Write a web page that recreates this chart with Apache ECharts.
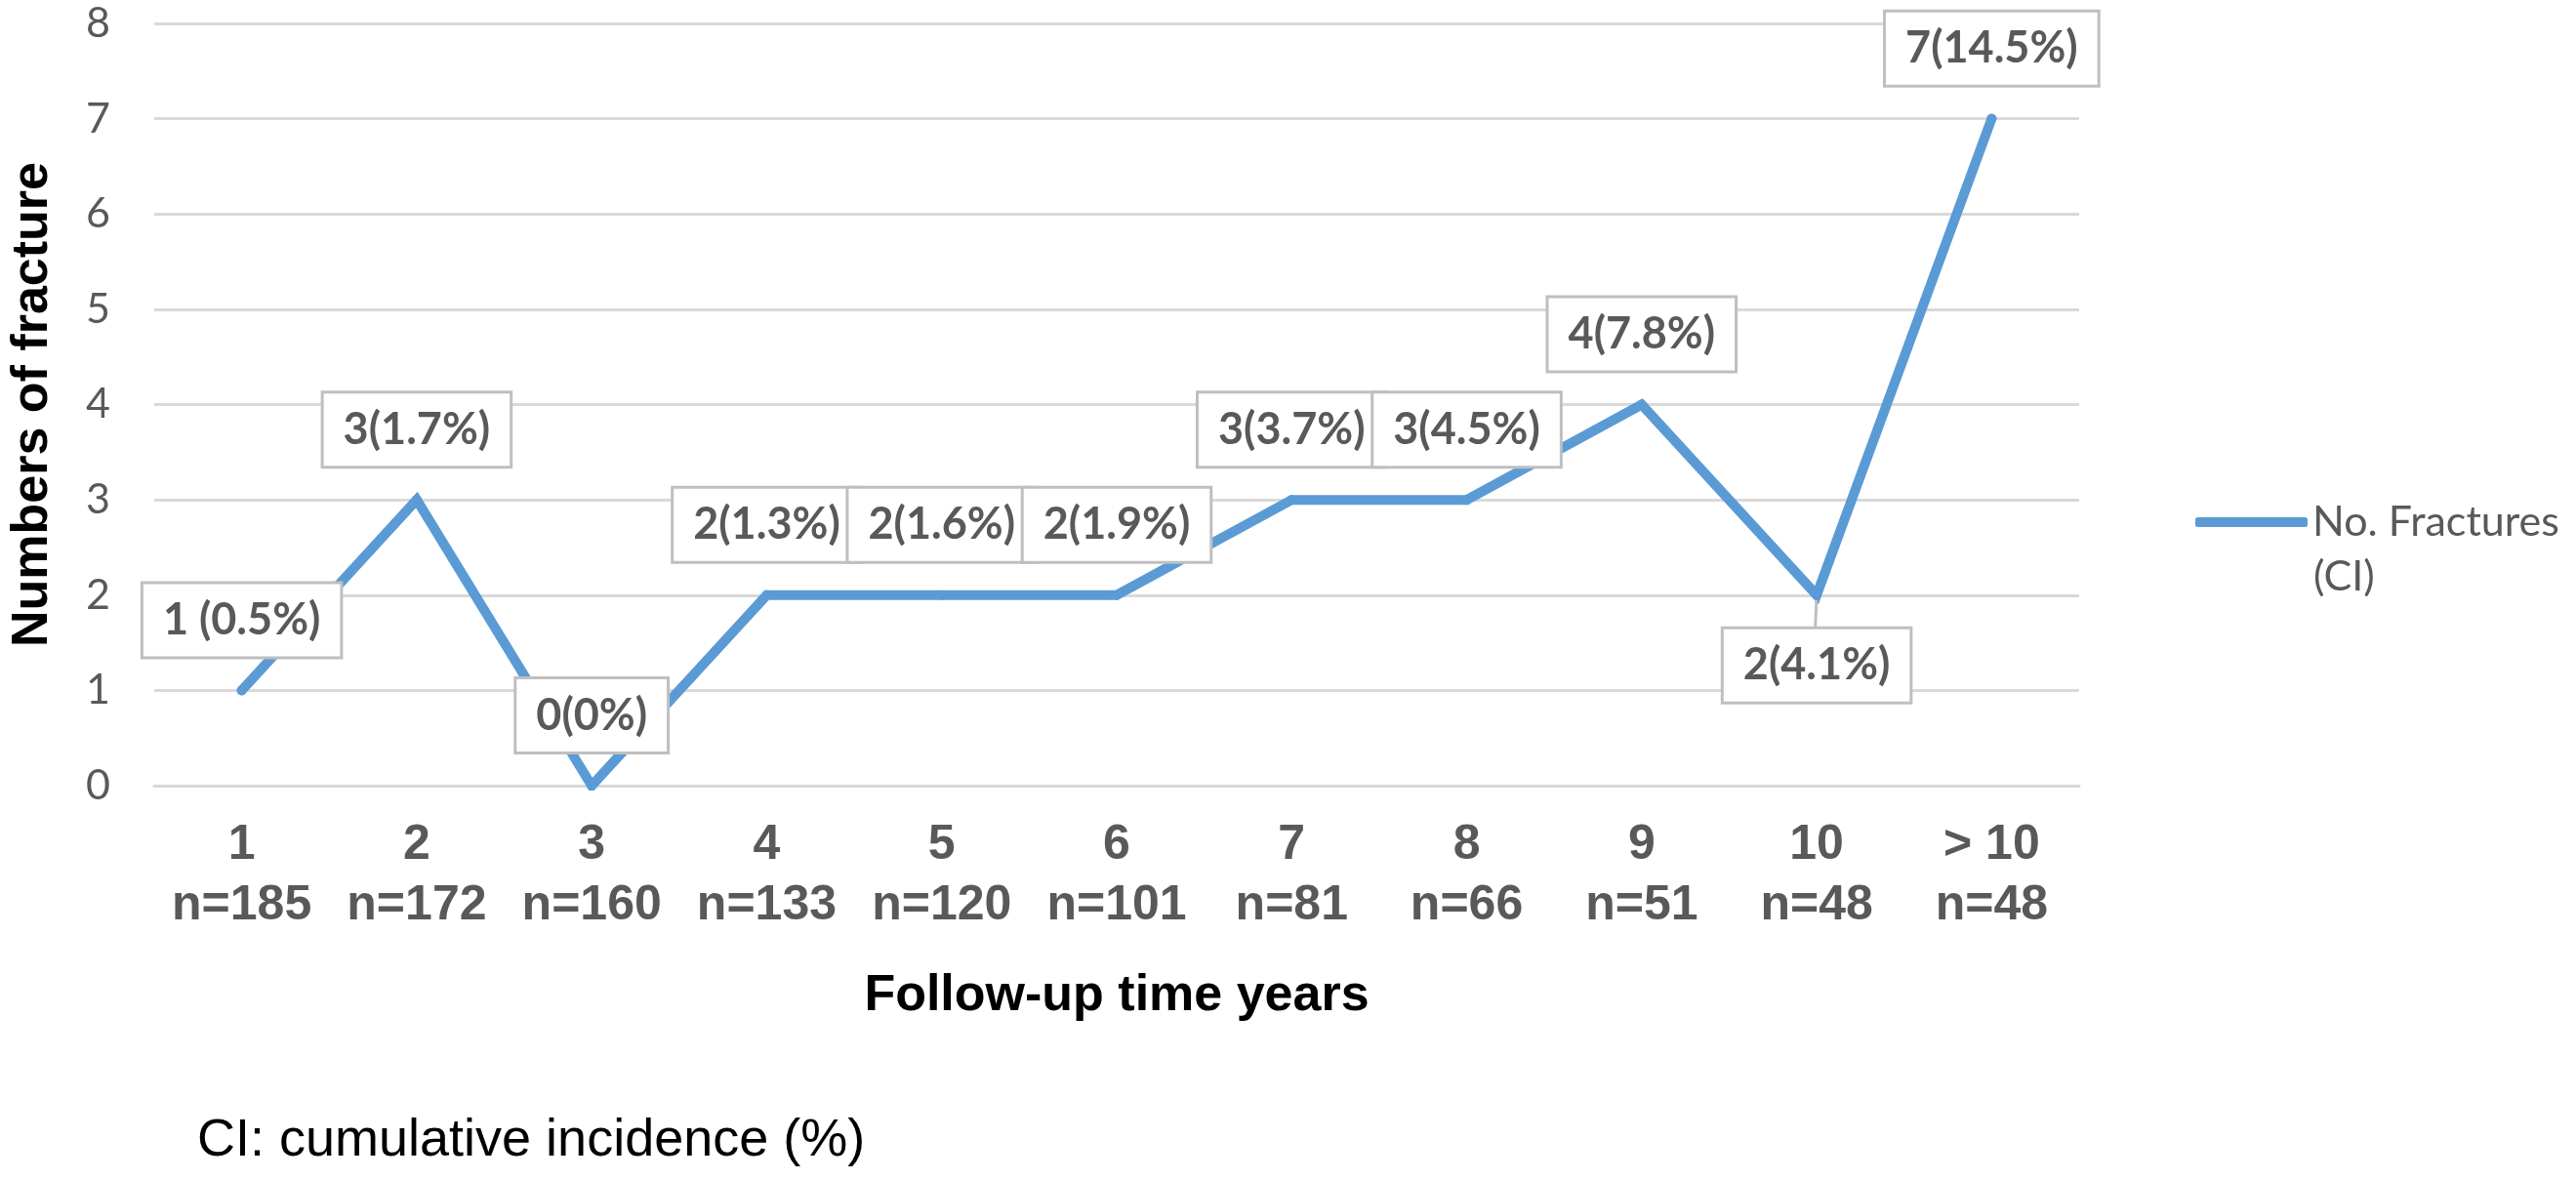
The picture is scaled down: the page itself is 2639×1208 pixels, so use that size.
<!DOCTYPE html>
<html>
<head>
<meta charset="utf-8">
<script src="https://cdn.jsdelivr.net/npm/echarts@6/dist/echarts.min.js"></script>
<style>
html,body{margin:0;padding:0;background:#fff;}
#chart{width:2639px;height:1208px;}
</style>
</head>
<body>
<div id="chart"></div>
<script>
const years = ["1","2","3","4","5","6","7","8","9","10","> 10"];
const counts = [185,172,160,133,120,101,81,66,51,48,48];
const fractures = [1,3,0,2,2,2,3,3,4,2,7];
const ciLabels = ["1 (0.5%)","3(1.7%)","0(0%)","2(1.3%)","2(1.6%)","2(1.9%)","3(3.7%)","3(4.5%)","4(7.8%)","2(4.1%)","7(14.5%)"];
const labelBelow = [false,false,false,false,false,false,false,false,false,true,false];
const yTicks = [0,1,2,3,4,5,6,7,8];

const categories = years.map((y,i)=> y + "\nn=" + counts[i]);
const seriesName = "No. Fractures (CI)";

const chart = echarts.init(document.getElementById('chart'));
const gray = '#595959';
const narrow = '"Liberation Sans Narrow", "Liberation Sans", Arial, sans-serif';

chart.setOption({
  animation:false,
  backgroundColor:'#fff',
  grid:{left:143, right:509, top:24, bottom:403, containLabel:false},
  legend:{
    left:2244, top:505, orient:'vertical',
    icon:'roundRect', itemWidth:115, itemHeight:10,
    data:[seriesName],
    formatter:()=> 'No. Fractures',
    textStyle:{fontFamily:'Lato, "Open Sans", sans-serif', fontSize:43, color:gray, lineHeight:50}
  },
  graphic:[
    {type:'text', left:2370, top:570, style:{text:'(CI)', font:'43px Lato, "Open Sans", sans-serif', fill:gray}},
    {type:'text', left:202, top:1142, style:{text:'CI: cumulative incidence (%)', font:'54px ' + narrow, fill:'#000'}}
  ],
  xAxis:{
    type:'category', data:categories, boundaryGap:true,
    axisLine:{show:true, lineStyle:{color:'#D9D9D9', width:3}},
    axisTick:{show:false},
    axisLabel:{interval:0, margin:30, fontFamily:'"Liberation Sans", Arial, sans-serif', fontWeight:'bold', fontSize:50, lineHeight:62, color:gray},
    name:'Follow-up time years', nameLocation:'middle', nameGap:190,
    nameTextStyle:{fontFamily:narrow, fontWeight:'bold', fontSize:52, color:'#000'}
  },
  yAxis:{
    type:'value', min:yTicks[0], max:yTicks[yTicks.length-1], interval:1,
    axisLine:{show:false}, axisTick:{show:false},
    splitLine:{lineStyle:{color:'#D9D9D9', width:3}},
    axisLabel:{margin:45, fontFamily:'Lato, "Open Sans", sans-serif', fontSize:43, color:gray},
    name:'Numbers of fracture', nameLocation:'middle', nameGap:98, nameRotate:90,
    nameTextStyle:{fontFamily:narrow, fontWeight:'bold', fontSize:52, color:'#000'}
  },
  series:[{
    name:seriesName, type:'line',
    data:fractures.map((v,i)=>({
      value:v,
      label:{position: labelBelow[i] ? 'bottom' : 'top'}
    })),
    symbol:'circle', symbolSize:10, showSymbol:true,
    itemStyle:{color:'#5B9BD5'},
    lineStyle:{color:'#5B9BD5', width:10, cap:'round', join:'miter'},
    label:{
      show:true, distance:30,
      formatter:(p)=> ciLabels[p.dataIndex],
      fontFamily:'Lato, "Open Sans", sans-serif', fontWeight:'bold', fontSize:45, color:gray,
      backgroundColor:'#fff', borderColor:'#BFBFBF', borderWidth:3,
      padding:[14,20,14,20], lineHeight:46
    },
    labelLine:{show:true, lineStyle:{color:'#BFBFBF', width:3}},
    emphasis:{disabled:true}
  }]
});
</script>
</body>
</html>
